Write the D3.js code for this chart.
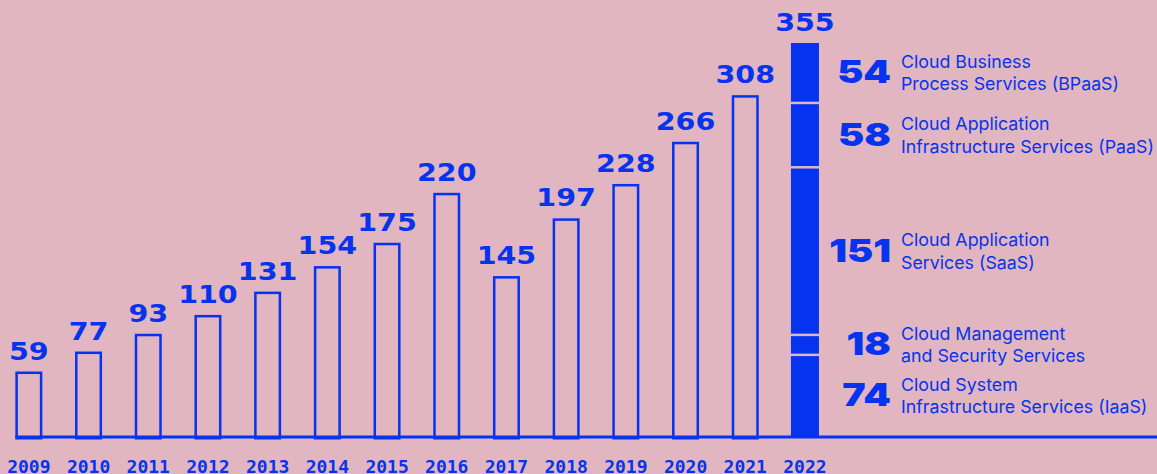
<!DOCTYPE html>
<html>
<head>
<meta charset="utf-8">
<script src="https://cdn.jsdelivr.net/npm/d3@7"></script>
<style>
  html, body { margin: 0; padding: 0; background: #e1b6c0; }
  svg { display: block; }
</style>
</head>
<body>
<svg id="chart" width="1157" height="474"></svg>
<script>
const years = ["2009","2010","2011","2012","2013","2014","2015","2016","2017","2018","2019","2020","2021","2022"];
const totals = [59, 77, 93, 110, 131, 154, 175, 220, 145, 197, 228, 266, 308, 355];
// 2022 breakdown, bottom to top
const segValues = [74, 18, 151, 58, 54];
const segLine1 = ["Cloud System", "Cloud Management", "Cloud Application", "Cloud Application", "Cloud Business"];
const segLine2 = ["Infrastructure Services (IaaS)", "and Security Services", "Services (SaaS)", "Infrastructure Services (PaaS)", "Process Services (BPaaS)"];

const BLUE = "#0633ee";
const BG = "#e1b6c0";
const W = 1157, H = 474;
const svg = d3.select("#chart");
svg.append("rect").attr("width", W).attr("height", H).attr("fill", BG);

const baseY = 437;
const y = d3.scaleLinear().domain([0, 355]).range([baseY, 43]);
const x = d3.scaleBand().domain(years).range([-1, -1 + 59.7 * years.length]);
const cx = d => x(d) + x.step() / 2;
const barW = 27;

const data = years.map((yr, i) => ({ year: yr, value: totals[i] }));
const outlined = data.slice(0, -1);
const last = data[data.length - 1];

// outlined bars
svg.append("g").selectAll("rect").data(outlined).join("rect")
  .attr("x", d => cx(d.year) - barW / 2 + 1.25)
  .attr("y", d => y(d.value) + 1.25)
  .attr("width", barW - 2.5)
  .attr("height", d => baseY - y(d.value))
  .attr("fill", "none")
  .attr("stroke", BLUE)
  .attr("stroke-width", 2.5);

// stacked 2022 bar
let cum = 0;
const segs = segValues.map((v, i) => {
  const s = { v, lo: cum, hi: cum + v, l1: segLine1[i], l2: segLine2[i] };
  cum += v;
  return s;
});
const lastCx = cx(last.year);
svg.append("g").selectAll("rect").data(segs).join("rect")
  .attr("x", lastCx - 14)
  .attr("y", d => y(d.hi))
  .attr("width", 28)
  .attr("height", d => y(d.lo) - y(d.hi))
  .attr("fill", BLUE);
svg.append("g").selectAll("line").data(segs.slice(0, -1)).join("line")
  .attr("x1", lastCx - 15).attr("x2", lastCx + 15)
  .attr("y1", d => y(d.hi)).attr("y2", d => y(d.hi))
  .attr("stroke", BG).attr("stroke-width", 2.5);

// baseline
svg.append("line")
  .attr("x1", cx(years[0]) - barW / 2).attr("x2", W)
  .attr("y1", baseY).attr("y2", baseY)
  .attr("stroke", BLUE).attr("stroke-width", 2.8);

// value labels (wide bold)
svg.append("g").selectAll("g").data(data).join("g")
  .attr("transform", d => `translate(${cx(d.year)},${y(d.value) - 12}) scale(1.19,1)`)
  .append("text")
  .attr("text-anchor", "middle")
  .attr("font-family", "DejaVu Sans")
  .attr("font-weight", "bold")
  .attr("font-size", 24)
  .attr("fill", BLUE)
  .text(d => d.value);

// x axis labels
const xAxis = d3.axisBottom(x).tickSize(0).tickPadding(0);
const gx = svg.append("g").attr("transform", `translate(0,${baseY})`).call(xAxis);
gx.select(".domain").remove();
gx.selectAll("text")
  .attr("y", 36).attr("dy", 0)
  .attr("font-family", "DejaVu Sans Mono")
  .attr("font-weight", "bold")
  .attr("font-size", 18)
  .attr("fill", BLUE);

// legend
const lg = svg.append("g").selectAll("g").data(segs).join("g")
  .attr("transform", d => `translate(0,${(y(d.lo) + y(d.hi)) / 2})`);
lg.append("g")
  .attr("transform", "translate(891,10.5) scale(1.23,1)")
  .append("text")
  .attr("text-anchor", "end")
  .attr("font-family", "Inter")
  .attr("font-weight", 900)
  .attr("font-size", 32)
  .attr("fill", BLUE)
  .text(d => d.v);
lg.append("text")
  .attr("x", 901).attr("y", -5)
  .attr("font-family", "Inter").attr("font-size", 17.8).attr("fill", BLUE)
  .text(d => d.l1);
lg.append("text")
  .attr("x", 901).attr("y", 17.5)
  .attr("font-family", "Inter").attr("font-size", 17.8).attr("fill", BLUE)
  .text(d => d.l2);
</script>
</body>
</html>
